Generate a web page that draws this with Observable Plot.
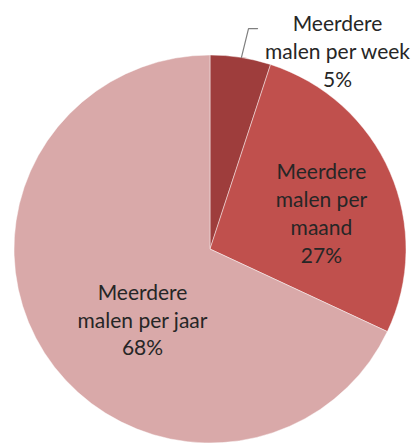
<!DOCTYPE html>
<html><head><meta charset="utf-8">
<script src="https://cdn.jsdelivr.net/npm/d3@7"></script>
<script src="https://cdn.jsdelivr.net/npm/@observablehq/plot@0.6"></script>
<style>body{margin:0;background:#fff} #chart svg{display:block}</style>
</head><body><div id="chart"></div>
<script>
const categories = ["Meerdere malen per week", "Meerdere malen per maand", "Meerdere malen per jaar"];
const values = [5, 27, 68];
const labelTexts = ["Meerdere\nmalen per week", "Meerdere\nmalen per\nmaand", "Meerdere\nmalen per jaar"];
const colors = ["#9E3D3C", "#C0504D", "#D9A9A9"];

// layout (normalized pie coordinates, radius = 1)
const labelPos = [[0.648, 1.026], [0.566, 0.191], [-0.347, -0.356]];
const leader = [[0.158, 0.99], [0.194, 1.139], [0.240, 1.139]];

const total = d3.sum(values);
const data = categories.map((c, i) => ({
  category: c,
  value: values[i],
  label: labelTexts[i] + "\n" + Math.round(values[i] / total * 100) + "%",
  lx: labelPos[i][0],
  ly: labelPos[i][1]
}));
const arcs = d3.pie().value(d => d.value).sort(null)(data);

function pieMark(index, scales, vals, dimensions, context) {
  const cx = scales.x(0), cy = scales.y(0);
  const rx = scales.x(1) - cx, ry = cy - scales.y(1);
  const g = d3.create("svg:g").attr("transform", `translate(${cx},${cy}) scale(1,${ry / rx})`);
  const arc = d3.arc().innerRadius(0).outerRadius(rx);
  g.selectAll("path").data(arcs).join("path")
    .attr("d", arc)
    .attr("fill", (d, i) => colors[i])
    .attr("stroke", "#fff")
    .attr("stroke-opacity", 0.45)
    .attr("stroke-width", 1);
  return g.node();
}

const chart = Plot.plot({
  width: 415,
  height: 443,
  margin: 0,
  x: {domain: [-1, 1], range: [14, 406], axis: null},
  y: {domain: [-1, 1], range: [443, 55], axis: null},
  marks: [
    pieMark,
    Plot.line(leader, {x: d => d[0], y: d => d[1], stroke: "#7f7f7f", strokeWidth: 1.2}),
    Plot.text(data, {
      x: "lx", y: "ly", text: "label",
      fontSize: 21, lineHeight: 1.33, fill: "#262626",
      fontFamily: "Lato, 'Open Sans', sans-serif"
    })
  ]
});
document.getElementById("chart").appendChild(chart);
</script>
</body></html>
